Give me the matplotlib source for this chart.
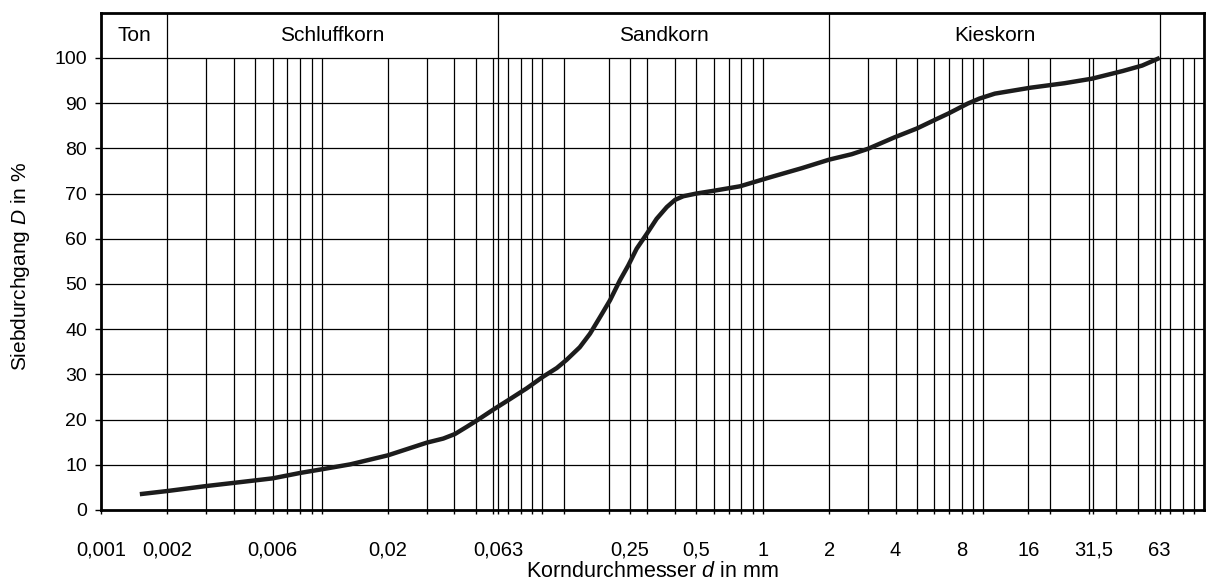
import numpy as np
import matplotlib.pyplot as plt

plt.rcParams['font.family'] = ['Liberation Sans', 'DejaVu Sans']
plt.rcParams['mathtext.fontset'] = 'custom'
plt.rcParams['mathtext.rm'] = 'Liberation Sans'
plt.rcParams['mathtext.it'] = 'Liberation Sans:italic'

# Sieblinie: Korndurchmesser d [mm] und Siebdurchgang D [%]
d_mm = [0.0015, 0.002, 0.003, 0.004, 0.006, 0.008, 0.01, 0.0135, 0.02, 0.03,
        0.0356, 0.0402, 0.0455, 0.0513, 0.060, 0.0702, 0.085, 0.101, 0.1164,
        0.1289, 0.148, 0.1647, 0.183, 0.203, 0.225, 0.2456, 0.268, 0.298,
        0.330, 0.367, 0.400, 0.436, 0.5, 0.597, 0.788, 1.08, 1.50, 2.0, 2.53,
        3.0, 3.94, 5.0, 6.15, 6.94, 8.49, 9.59, 11.27, 16.3, 23.3, 31.0, 42.8,
        52.4, 63]
passing = [3.5, 4.2, 5.3, 6.0, 7.0, 8.2, 9.0, 10.1, 12.1, 14.9,
           15.8, 16.8, 18.4, 20.0, 22.2, 24.3, 26.9, 29.5, 31.4,
           33.2, 36.0, 39.0, 42.7, 46.4, 50.8, 54.1, 57.8, 61.1,
           64.4, 67.0, 68.6, 69.4, 70.0, 70.6, 71.6, 73.6, 75.6, 77.5, 78.7,
           79.9, 82.4, 84.4, 86.5, 87.7, 89.9, 91.0, 92.1, 93.4, 94.4, 95.4, 97.1,
           98.3, 100]

# Kornfraktionen (Grenzen in mm)
zone_names = ['Ton', 'Schluffkorn', 'Sandkorn', 'Kieskorn']
zone_bounds = [0.001, 0.002, 0.063, 2, 63]

# beschriftete Siebweiten
tick_values = [0.001, 0.002, 0.006, 0.02, 0.063, 0.25, 0.5, 1, 2, 4, 8, 16, 31.5, 63]
# zusaetzliche Siebweiten neben dem log-Raster
extra_sieves = [0.063, 0.125, 0.25, 16, 31.5, 63]

grid_x = sorted(set([k * 10.0 ** e for e in range(-3, 2) for k in range(1, 10)][1:] + extra_sieves))

fig = plt.figure(figsize=(12.07, 5.81), dpi=100)
ax = fig.add_axes([101 / 1207, 1 - 510 / 581, 1103 / 1207, 497.3 / 581])
ax.set_xscale('log')
ax.set_xlim(0.001, 100)
ax.set_ylim(0, 110)

# Raster
ax.vlines(grid_x, 0, 100, color='black', lw=0.9, zorder=1)
ax.hlines(np.arange(10, 101, 10), 0.001, 100, color='black', lw=0.9, zorder=1)

# Kopfzeile mit Kornfraktionen
ax.vlines(zone_bounds[1:], 100, 110, color='black', lw=0.9, zorder=1)
for name, lo, hi in zip(zone_names, zone_bounds[:-1], zone_bounds[1:]):
    ax.text(np.sqrt(lo * hi), 105, name, ha='center', va='center', fontsize=15)

ax.plot(d_mm, passing, color='#1c1c1c', lw=3.2, solid_capstyle='butt',
        solid_joinstyle='round', zorder=3)

for s in ax.spines.values():
    s.set_linewidth(2)

ax.set_yticks(np.arange(0, 101, 10))
ax.tick_params(axis='y', labelsize=14, length=4, width=1, pad=6)

ax.set_xticks(tick_values)
ax.set_xticklabels([f'{v:g}'.replace('.', ',') for v in tick_values])
ax.set_xticks(grid_x, minor=True)
ax.xaxis.set_minor_formatter(plt.NullFormatter())
ax.tick_params(axis='x', which='major', labelsize=14.5, length=3, width=1, pad=19)
ax.tick_params(axis='x', which='minor', length=3, width=1)

ax.set_xlabel('Korndurchmesser $\\it{d}$ in mm', fontsize=15.5, labelpad=1)
ax.set_ylabel('Siebdurchgang $\\it{D}$ in %', fontsize=15, va='center')
ax.yaxis.set_label_coords(-81 / 1103, 0.49)

fig.savefig('out.png', dpi=100)
